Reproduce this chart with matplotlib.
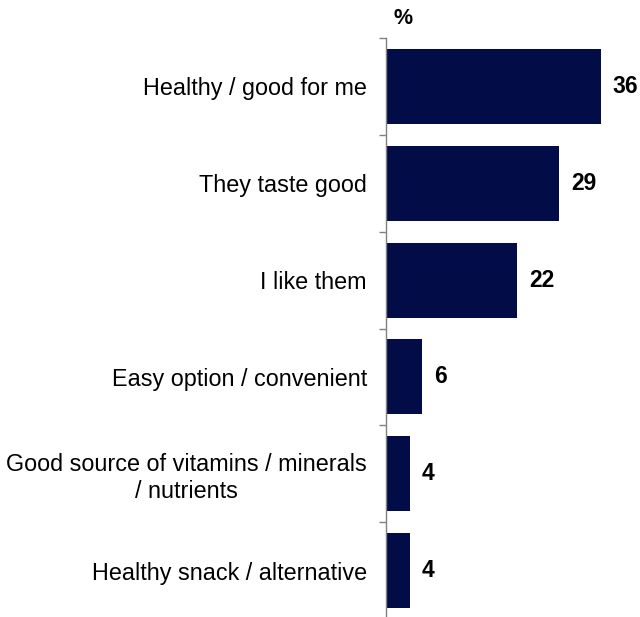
import matplotlib
matplotlib.use("Agg")
import matplotlib.pyplot as plt
import numpy as np

categories = ["Healthy / good for me", "They taste good", "I like them",
              "Easy option / convenient",
              "Good source of vitamins / minerals\n/ nutrients",
              "Healthy snack / alternative"]
values = [36, 29, 22, 6, 4, 4]
unit_label = "%"

bar_color = "#020C47"
plt.rcParams['font.family'] = ['Liberation Sans', 'DejaVu Sans']

fig = plt.figure(figsize=(6.4, 6.17), dpi=100)
ax = fig.add_axes([386/640, 1 - 619/617, (634-386)/640, 581/617])

n = len(categories)
pos = np.arange(n)
ax.barh(pos, values, height=0.775, color=bar_color, edgecolor='none')
ax.set_ylim(n - 0.5, -0.5)
ax.set_xlim(0, (634 - 386) / 5.97)

ax.set_yticks(np.arange(n + 1) - 0.5)
ax.set_yticklabels([])
ax.set_yticks(pos, minor=True)
ax.set_yticklabels(categories, minor=True, fontsize=16.8, multialignment='center')
ax.tick_params(axis='y', which='major', length=5, width=1, color='#808080', direction='out')
ax.tick_params(axis='y', which='minor', length=0, pad=13.7)

ax.set_xticks([])
for s in ['top', 'right', 'bottom']:
    ax.spines[s].set_visible(False)
ax.spines['left'].set_color('#808080')
ax.spines['left'].set_linewidth(1)

for p, v in zip(pos, values):
    ax.text(v + 2.0, p, f"{v}", va='center', ha='left', fontsize=16.5, fontweight='bold', color='black')

fig.text(403/640, 1 - 18/617, unit_label, ha='center', va='center', fontsize=15.5, fontweight='bold')

fig.savefig("out.png", dpi=100)
